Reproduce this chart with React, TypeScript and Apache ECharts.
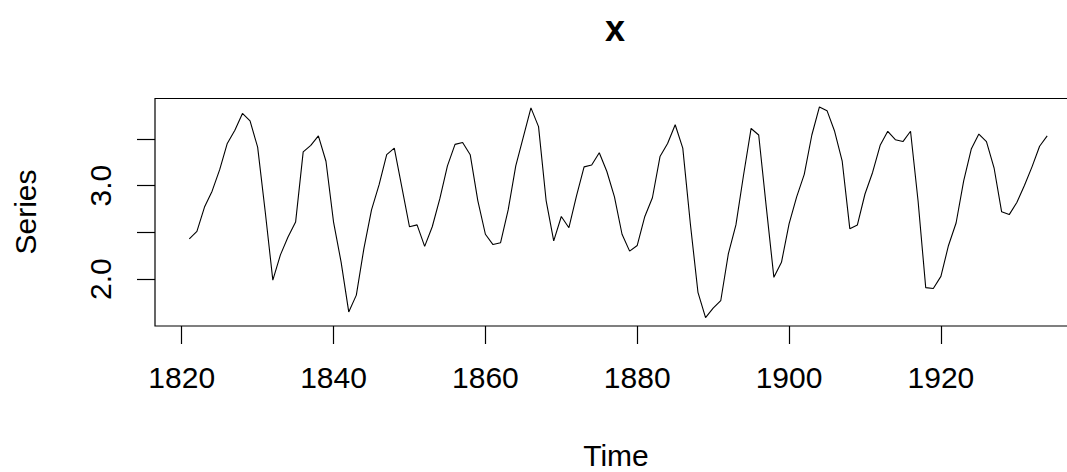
import React, { useEffect, useRef } from "react";
import * as echarts from "echarts";

const startYear = 1821;
const seriesValues = [
  2.43, 2.51, 2.77, 2.94, 3.17, 3.45, 3.59, 3.77, 3.69, 3.41,
  2.72, 1.99, 2.26, 2.45, 2.61, 3.36, 3.43, 3.53, 3.26, 2.61,
  2.18, 1.65, 1.83, 2.33, 2.74, 3.01, 3.33, 3.40, 2.98, 2.56,
  2.58, 2.35, 2.56, 2.86, 3.21, 3.44, 3.46, 3.33, 2.84, 2.48,
  2.37, 2.39, 2.74, 3.21, 3.52, 3.83, 3.63, 2.84, 2.41, 2.67,
  2.55, 2.89, 3.20, 3.22, 3.35, 3.15, 2.88, 2.48, 2.30, 2.36,
  2.67, 2.87, 3.31, 3.45, 3.65, 3.40, 2.59, 1.86, 1.59, 1.69,
  1.77, 2.27, 2.58, 3.11, 3.61, 3.54, 2.77, 2.02, 2.18, 2.59,
  2.88, 3.12, 3.54, 3.84, 3.80, 3.58, 3.26, 2.54, 2.58, 2.91,
  3.14, 3.43, 3.58, 3.49, 3.47, 3.58, 2.83, 1.91, 1.90, 2.03,
  2.36, 2.60, 3.05, 3.39, 3.55, 3.47, 3.19, 2.72, 2.69, 2.82,
  3.00, 3.20, 3.42, 3.53,
];
const xTicks = [1820, 1840, 1860, 1880, 1900, 1920];
const yTicks = [2.0, 2.5, 3.0, 3.5];
const yLabels = [2.0, 3.0];

const FONT = "'Liberation Sans', Arial, sans-serif";

export default function App() {
  const ref = useRef<HTMLDivElement>(null);
  useEffect(() => {
    if (!ref.current) return;
    const chart = echarts.init(ref.current, null, { renderer: "svg" });
    const data = seriesValues.map((v, i) => [startYear + i, v]);
    chart.setOption({
      animation: false,
      backgroundColor: "#fff",
      grid: {
        left: 155,
        top: 98.5,
        width: 926.5,
        height: 227.5,
        show: true,
        borderColor: "#000",
        borderWidth: 1.2,
        backgroundColor: "transparent",
      },
      xAxis: {
        type: "value",
        min: 1816.48,
        max: 1938.52,
        axisLine: { show: false },
        splitLine: { show: false },
        axisTick: {
          show: true,
          length: 18,
          customValues: xTicks,
          lineStyle: { color: "#000", width: 1.2 },
        },
        axisLabel: {
          show: true,
          customValues: xTicks,
          margin: 36,
          fontSize: 30,
          fontFamily: FONT,
          color: "#000",
          formatter: (v: number) => String(v),
        },
      },
      yAxis: {
        type: "value",
        min: 1.5,
        max: 3.93,
        axisLine: { show: false },
        splitLine: { show: false },
        axisTick: {
          show: true,
          length: 18,
          customValues: yTicks,
          lineStyle: { color: "#000", width: 1.2 },
        },
        axisLabel: {
          show: true,
          customValues: yLabels,
          rotate: 90,
          margin: 40,
          fontSize: 30,
          fontFamily: FONT,
          color: "#000",
          formatter: (v: number) => v.toFixed(1),
        },
      },
      graphic: [
        {
          type: "text",
          x: 615,
          y: 28,
          style: {
            text: "x",
            font: `bold 36px ${FONT}`,
            fill: "#000",
            align: "center",
            verticalAlign: "middle",
          },
        },
        {
          type: "text",
          x: 616,
          y: 455,
          style: {
            text: "Time",
            font: `30px ${FONT}`,
            fill: "#000",
            align: "center",
            verticalAlign: "middle",
          },
        },
        {
          type: "text",
          x: 25,
          y: 212,
          rotation: Math.PI / 2,
          style: {
            text: "Series",
            font: `30px ${FONT}`,
            fill: "#000",
            align: "center",
            verticalAlign: "middle",
          },
        },
      ],
      series: [
        {
          type: "line",
          data,
          showSymbol: false,
          symbol: "none",
          lineStyle: { color: "#000", width: 1.1 },
          silent: true,
        },
      ],
    });
    return () => chart.dispose();
  }, []);
  return (
    <div
      ref={ref}
      style={{ position: "fixed", left: 0, top: 0, width: 1100, height: 472 }}
    />
  );
}
